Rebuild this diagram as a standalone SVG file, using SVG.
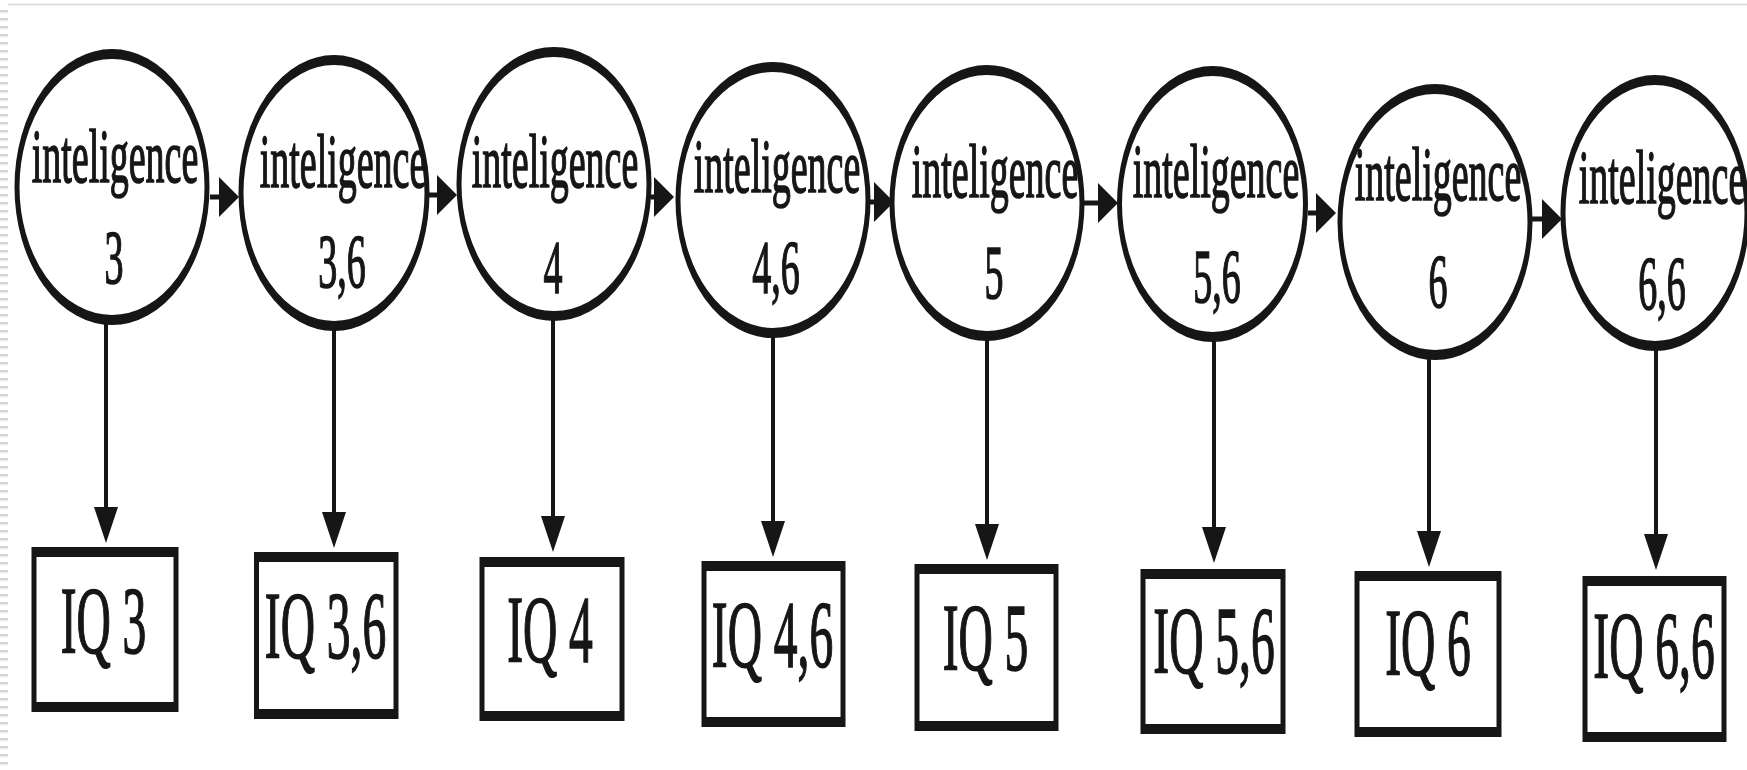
<svg xmlns="http://www.w3.org/2000/svg" width="1747" height="770" viewBox="0 0 1747 770">
  <style>
    .shape { fill: #fff; stroke: #161616; stroke-width: 10; }
    .t { font-family: "Liberation Serif", "Times New Roman", serif; fill: #161616; stroke: #161616; stroke-width: 1.6; text-anchor: middle; }
    .lbl { font-size: 76px; }
    .iq { font-size: 95px; }
    .h { stroke: #161616; stroke-width: 5; fill: none; marker-end: url(#ah); }
    .v { stroke: #161616; stroke-width: 8; fill: none; marker-end: url(#av); }
    .head { fill: #161616; }
  </style>
  <defs>
    <marker id="ah" markerUnits="userSpaceOnUse" viewBox="0 -20 40 40" markerWidth="40" markerHeight="40" refX="20" refY="0" orient="auto">
      <path class="head" d="M0,-20 L40,0 L0,20 Z"/>
    </marker>
    <marker id="av" markerUnits="userSpaceOnUse" viewBox="0 -24 36 48" markerWidth="36" markerHeight="48" refX="21" refY="0" orient="auto">
      <path class="head" d="M0,-24 L36,0 L0,24 Z"/>
    </marker>
  </defs>
  <rect x="0" y="0" width="1747" height="770" fill="#fff"/>
  <line x1="8" y1="4.5" x2="1747" y2="4.5" stroke="#d8d8d8" stroke-width="1.5"/>
  <line x1="4" y1="10" x2="4" y2="770" stroke="#d4d4d4" stroke-width="8" stroke-dasharray="2.5 5.5"/>

  <g transform="scale(0.5 1)">
    <g id="connectors">
      <line class="h" x1="420" y1="197" x2="458" y2="197"/>
      <line class="h" x1="858" y1="195" x2="894" y2="195"/>
      <line class="h" x1="1302" y1="197" x2="1328" y2="197"/>
      <line class="h" x1="1740" y1="202" x2="1768" y2="202"/>
      <line class="h" x1="2168" y1="203" x2="2216" y2="203"/>
      <line class="h" x1="2616" y1="213" x2="2652" y2="213"/>
      <line class="h" x1="3064" y1="219" x2="3104" y2="219"/>

      <line class="v" x1="212" y1="322" x2="212" y2="528"/>
      <line class="v" x1="668" y1="327" x2="668" y2="533"/>
      <line class="v" x1="1106" y1="317" x2="1106" y2="537"/>
      <line class="v" x1="1546" y1="334" x2="1546" y2="542"/>
      <line class="v" x1="1974" y1="337" x2="1974" y2="545"/>
      <line class="v" x1="2428" y1="338" x2="2428" y2="548"/>
      <line class="v" x1="2858" y1="356" x2="2858" y2="552"/>
      <line class="v" x1="3312" y1="346" x2="3312" y2="555"/>
    </g>

    <g id="i3">
      <ellipse class="shape" cx="224" cy="187" rx="190" ry="133"/>
      <text class="t lbl" x="230" y="182">inteligence</text>
      <text class="t lbl" x="228" y="283">3</text>
    </g>
    <g id="i36">
      <ellipse class="shape" cx="668" cy="193" rx="186" ry="133"/>
      <text class="t lbl" x="686" y="187">inteligence</text>
      <text class="t lbl" x="684" y="287">3,6</text>
    </g>
    <g id="i4">
      <ellipse class="shape" cx="1108" cy="184" rx="190" ry="132"/>
      <text class="t lbl" x="1110" y="187">inteligence</text>
      <text class="t lbl" x="1106" y="293">4</text>
    </g>
    <g id="i46">
      <ellipse class="shape" cx="1546" cy="200" rx="190" ry="133"/>
      <text class="t lbl" x="1554" y="192">inteligence</text>
      <text class="t lbl" x="1552" y="293">4,6</text>
    </g>
    <g id="i5">
      <ellipse class="shape" cx="1974" cy="203" rx="190" ry="133"/>
      <text class="t lbl" x="1990" y="197">inteligence</text>
      <text class="t lbl" x="1988" y="298">5</text>
    </g>
    <g id="i56">
      <ellipse class="shape" cx="2425" cy="204" rx="186" ry="133"/>
      <text class="t lbl" x="2432" y="197">inteligence</text>
      <text class="t lbl" x="2434" y="302">5,6</text>
    </g>
    <g id="i6">
      <ellipse class="shape" cx="2870" cy="222" rx="190" ry="133"/>
      <text class="t lbl" x="2876" y="200">inteligence</text>
      <text class="t lbl" x="2876" y="307">6</text>
    </g>
    <g id="i66">
      <ellipse class="shape" cx="3310" cy="213" rx="184" ry="133"/>
      <text class="t lbl" x="3324" y="203">inteligence</text>
      <text class="t lbl" x="3324" y="309">6,6</text>
    </g>

    <g id="iq3">
      <rect class="shape" x="68" y="552" width="284" height="155"/>
      <text class="t iq" x="207" y="653">IQ 3</text>
    </g>
    <g id="iq36">
      <rect class="shape" x="513" y="557" width="279" height="157"/>
      <text class="t iq" x="651" y="658">IQ 3,6</text>
    </g>
    <g id="iq4">
      <rect class="shape" x="964" y="562" width="280" height="154"/>
      <text class="t iq" x="1100" y="662">IQ 4</text>
    </g>
    <g id="iq46">
      <rect class="shape" x="1408" y="566" width="278" height="156"/>
      <text class="t iq" x="1545" y="667">IQ 4,6</text>
    </g>
    <g id="iq5">
      <rect class="shape" x="1834" y="569" width="278" height="157"/>
      <text class="t iq" x="1971" y="670">IQ 5</text>
    </g>
    <g id="iq56">
      <rect class="shape" x="2286" y="574" width="280" height="155"/>
      <text class="t iq" x="2428" y="673">IQ 5,6</text>
    </g>
    <g id="iq6">
      <rect class="shape" x="2714" y="576" width="284" height="156"/>
      <text class="t iq" x="2856" y="675">IQ 6</text>
    </g>
    <g id="iq66">
      <rect class="shape" x="3170" y="581" width="278" height="156"/>
      <text class="t iq" x="3308" y="678">IQ 6,6</text>
    </g>
  </g>
</svg>
